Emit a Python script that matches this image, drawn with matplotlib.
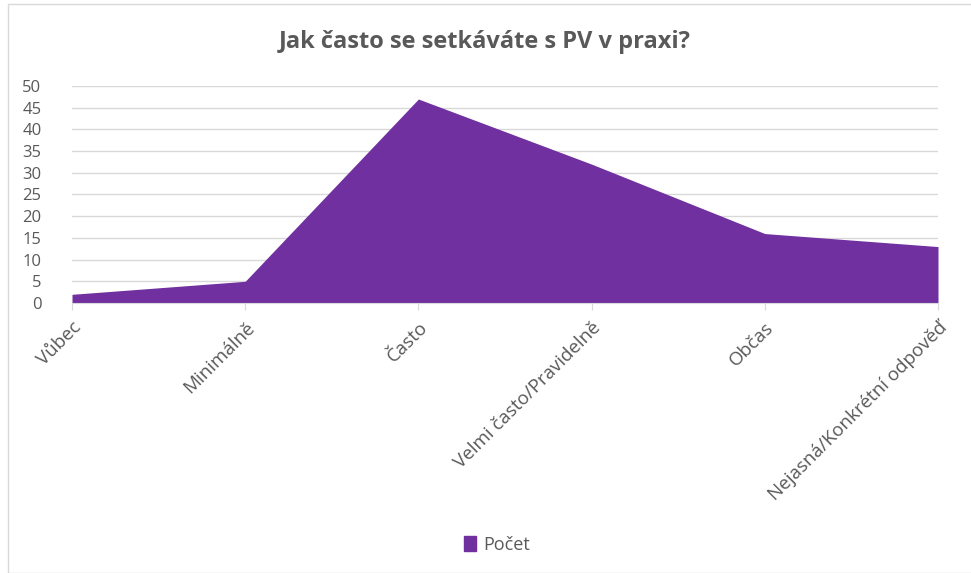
import matplotlib
matplotlib.use('Agg')
import matplotlib.pyplot as plt
from matplotlib.patches import Patch, Rectangle

# data
categories = ['Vůbec', 'Minimálně', 'Často', 'Velmi často/Pravidelně', 'Občas', 'Nejasná/Konkrétní odpověď']
counts = [2, 5, 47, 32, 16, 13]
yticks = [0, 5, 10, 15, 20, 25, 30, 35, 40, 45, 50]

plt.rcParams['font.family'] = ['Open Sans', 'DejaVu Sans']
purple = '#7030A0'
grey = '#595959'

fig = plt.figure(figsize=(9.71, 5.73), dpi=100)
ax = fig.add_axes([72/971, 1 - 303/573, (938 - 72)/971, (303 - 86)/573])

x = list(range(len(categories)))
ax.fill_between(x, counts, 0, color=purple, linewidth=0, zorder=2)

ax.set_xlim(0, len(categories) - 1)
ax.set_ylim(0, 50)
ax.set_yticks(yticks)
ax.set_xticks(x)
ax.set_xticklabels(categories, rotation=45, ha='right', rotation_mode='anchor')
ax.grid(axis='y', color='#d9d9d9', linewidth=1, zorder=0)
ax.set_axisbelow(True)

for s in ['top', 'right', 'left']:
    ax.spines[s].set_visible(False)
ax.spines['bottom'].set_color('#d9d9d9')
ax.tick_params(axis='y', length=0, labelsize=12, labelcolor=grey, pad=22)
ax.tick_params(axis='x', length=5, color='#d9d9d9', labelsize=13.5, labelcolor=grey, pad=6)

fig.text(485/971, 1 - 42/573, 'Jak často se setkáváte s PV v praxi?', ha='center', va='center',
         fontsize=17, fontweight='bold', color=grey)

fig.legend(handles=[Patch(color=purple, label='Počet')], loc='center',
           bbox_to_anchor=(497/971, 1 - 545/573), frameon=False, fontsize=13,
           labelcolor=grey, handlelength=0.7, handleheight=0.9, handletextpad=0.4)

# chart border
fig.patches.append(Rectangle((8/971, 0), 1, 1 - 4/573, transform=fig.transFigure,
                             fill=False, edgecolor='#d9d9d9', linewidth=1))

fig.savefig('out.png', dpi=100)
